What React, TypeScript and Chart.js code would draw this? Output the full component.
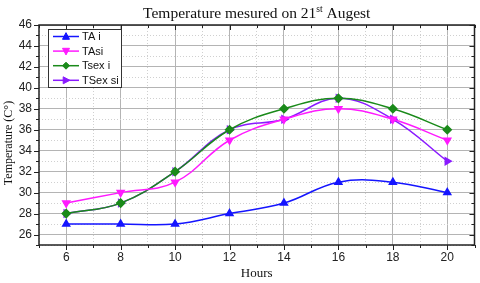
import React, { useEffect, useRef } from "react";
import { Chart, registerables } from "chart.js";

Chart.register(...registerables);

// ---- data ----
const hours = [6, 8, 10, 12, 14, 16, 18, 20];
const taI = [27, 27, 27, 28, 29, 31, 31, 30];
const taSi = [29, 30, 31, 35, 37, 38, 37, 35];
const tsexI = [28, 29, 32, 36, 38, 39, 38, 36];
const tsexSi = [28, 29, 32, 36, 37, 39, 37, 33];
const seriesNames = ["TA i", "TAsi", "Tsex i", "TSex si"];
const titleMain = "Temperature mesured on 21";
const titleSup = "st";
const titleEnd = " Augest";
const xTitle = "Hours";
const yTitle = "Temperature (C°)";
const xMin = 5;
const xMax = 21;
const yMin = 25;
const yMax = 46;

const colors = ["#1515ff", "#ff1aff", "#1a8a1a", "#8a1aff"];
const pointStyles = ["triangle", "triangle", "rectRot", "triangle"];
const rotations = [0, 180, 0, 90];
const seriesValues = [taI, taSi, tsexI, tsexSi];

const SERIF = "'Liberation Serif', 'Times New Roman', serif";
const SANS = "'Liberation Sans', Arial, sans-serif";

function drawMarker(ctx: CanvasRenderingContext2D, style: string, rotDeg: number, x: number, y: number, r: number) {
  ctx.save();
  ctx.translate(x, y);
  ctx.rotate((rotDeg * Math.PI) / 180);
  ctx.beginPath();
  if (style === "triangle") {
    ctx.moveTo(0, -r * 1.1);
    ctx.lineTo(r, r * 0.8);
    ctx.lineTo(-r, r * 0.8);
    ctx.closePath();
  } else {
    ctx.moveTo(0, -r);
    ctx.lineTo(r, 0);
    ctx.lineTo(0, r);
    ctx.lineTo(-r, 0);
    ctx.closePath();
  }
  ctx.fill();
  ctx.stroke();
  ctx.restore();
}

const decorPlugin = {
  id: "decor",
  beforeDraw(chart: any) {
    const { ctx, width, height } = chart;
    ctx.save();
    ctx.fillStyle = "#ffffff";
    ctx.fillRect(0, 0, width, height);
    ctx.restore();
  },
  afterDraw(chart: any) {
    const { ctx, chartArea: a, scales } = chart;
    const xs = scales.x;
    const ys = scales.y;
    ctx.save();
    // ticks: left/bottom outward, top/right inward
    ctx.strokeStyle = "#222";
    ctx.lineWidth = 1;
    for (let v = xMin; v <= xMax; v++) {
      const px = Math.round(xs.getPixelForValue(v)) + 0.5;
      const len = v % 2 === 0 ? 5 : 3;
      ctx.beginPath();
      ctx.moveTo(px, a.bottom);
      ctx.lineTo(px, a.bottom + len);
      ctx.moveTo(px, a.top);
      ctx.lineTo(px, a.top + len);
      ctx.stroke();
    }
    for (let v = yMin; v <= yMax; v++) {
      const py = Math.round(ys.getPixelForValue(v)) + 0.5;
      const len = v % 2 === 0 ? 5 : 3;
      ctx.beginPath();
      ctx.moveTo(a.left, py);
      ctx.lineTo(a.left - len, py);
      ctx.moveTo(a.right, py);
      ctx.lineTo(a.right - len, py);
      ctx.stroke();
    }
    // frame
    ctx.lineWidth = 1.5;
    ctx.strokeStyle = "#222";
    ctx.strokeRect(a.left, a.top, a.right - a.left, a.bottom - a.top);

    // title with superscript
    ctx.fillStyle = "#111";
    ctx.textBaseline = "alphabetic";
    const fMain = `15.5px ${SERIF}`;
    const fSup = `9.5px ${SERIF}`;
    ctx.font = fMain;
    const w1 = ctx.measureText(titleMain).width;
    const w3 = ctx.measureText(titleEnd).width;
    ctx.font = fSup;
    const w2 = ctx.measureText(titleSup).width;
    const total = w1 + w2 + w3;
    let tx = (a.left + a.right) / 2 - total / 2;
    const ty = 18;
    ctx.textAlign = "left";
    ctx.font = fMain;
    ctx.fillText(titleMain, tx, ty);
    tx += w1;
    ctx.font = fSup;
    ctx.fillText(titleSup, tx, ty - 6);
    tx += w2;
    ctx.font = fMain;
    ctx.fillText(titleEnd, tx, ty);

    // y title
    ctx.save();
    ctx.translate(9, 143);
    ctx.rotate(-Math.PI / 2);
    ctx.font = `12px ${SERIF}`;
    ctx.textAlign = "center";
    ctx.textBaseline = "middle";
    ctx.fillText(yTitle, 0, 0);
    ctx.restore();

    // legend box
    const lx = 48.5;
    const ly = 29.5;
    const lw = 73;
    const lh = 58;
    ctx.fillStyle = "#fff";
    ctx.fillRect(lx, ly, lw, lh);
    ctx.strokeStyle = "#333";
    ctx.lineWidth = 1;
    ctx.strokeRect(lx, ly, lw, lh);
    const ds = chart.data.datasets;
    ds.forEach((d: any, i: number) => {
      const ry = 36.5 + i * 14.6;
      ctx.strokeStyle = d.borderColor;
      ctx.lineWidth = 1.5;
      ctx.beginPath();
      ctx.moveTo(53, ry);
      ctx.lineTo(79, ry);
      ctx.stroke();
      ctx.fillStyle = d.pointBackgroundColor;
      ctx.strokeStyle = d.borderColor;
      ctx.lineWidth = 1;
      drawMarker(ctx, d.pointStyle, d.pointRotation, 66, ry, 3.5);
      ctx.fillStyle = "#111";
      ctx.font = `11px ${SANS}`;
      ctx.textAlign = "left";
      ctx.textBaseline = "middle";
      ctx.fillText(d.label, 82, ry + 0.5);
    });
    ctx.restore();
  },
};

export default function App() {
  const ref = useRef<HTMLCanvasElement | null>(null);
  useEffect(() => {
    document.body.style.margin = "0";
    if (!ref.current) return;
    const datasets = seriesValues.map((vals, i) => ({
      label: seriesNames[i],
      data: hours.map((h, j) => ({ x: h, y: vals[j] })),
      borderColor: colors[i],
      backgroundColor: colors[i],
      pointBackgroundColor: colors[i],
      pointBorderColor: colors[i],
      pointStyle: pointStyles[i],
      pointRotation: rotations[i],
      pointRadius: 4,
      borderWidth: 1.5,
      tension: 0.4,
      fill: false,
    }));
    const chart = new Chart(ref.current, {
      type: "line",
      data: { datasets },
      plugins: [decorPlugin],
      options: {
        animation: false,
        responsive: false,
        maintainAspectRatio: false,
        devicePixelRatio: 1,
        layout: { padding: { left: 0, top: 25, right: 2, bottom: 0 } },
        plugins: {
          legend: { display: false },
          title: { display: false },
          tooltip: { enabled: false },
        },
        scales: {
          x: {
            type: "linear",
            min: xMin,
            max: xMax,
            afterFit: (s: any) => {
              s.height = 38;
            },
            ticks: {
              stepSize: 1,
              autoSkip: false,
              maxRotation: 0,
              padding: 5,
              color: "#222",
              font: { family: SANS, size: 12 },
              callback: (v: any) => (Number(v) % 2 === 0 ? String(v) : ""),
            },
            grid: {
              drawTicks: false,
              color: (c: any) => (c.tick && c.tick.value % 2 === 0 ? "#b4b4b4" : "#d0d0d0"),
              lineWidth: 1,
            },
            border: {
              display: false,
              dash: (c: any) => (c.tick && c.tick.value % 2 !== 0 ? [1, 2] : []),
            },
            title: {
              display: true,
              text: xTitle,
              color: "#111",
              font: { family: SERIF, size: 13 },
              padding: { top: 0, bottom: 2 },
            },
          },
          y: {
            type: "linear",
            min: yMin,
            max: yMax,
            afterFit: (s: any) => {
              s.width = 39;
            },
            ticks: {
              stepSize: 1,
              autoSkip: false,
              padding: 7,
              color: "#222",
              font: { family: SANS, size: 12 },
              callback: (v: any) => (Number(v) % 2 === 0 ? String(v) : ""),
            },
            grid: {
              drawTicks: false,
              color: (c: any) => (c.tick && c.tick.value % 2 === 0 ? "#b4b4b4" : "#d0d0d0"),
              lineWidth: 1,
            },
            border: {
              display: false,
              dash: (c: any) => (c.tick && c.tick.value % 2 !== 0 ? [1, 2] : []),
            },
          },
        },
      } as any,
    });
    return () => chart.destroy();
  }, []);
  return (
    <div style={{ width: 480, height: 283 }}>
      <canvas ref={ref} width={480} height={283} style={{ width: 480, height: 283, display: "block" }} />
    </div>
  );
}
